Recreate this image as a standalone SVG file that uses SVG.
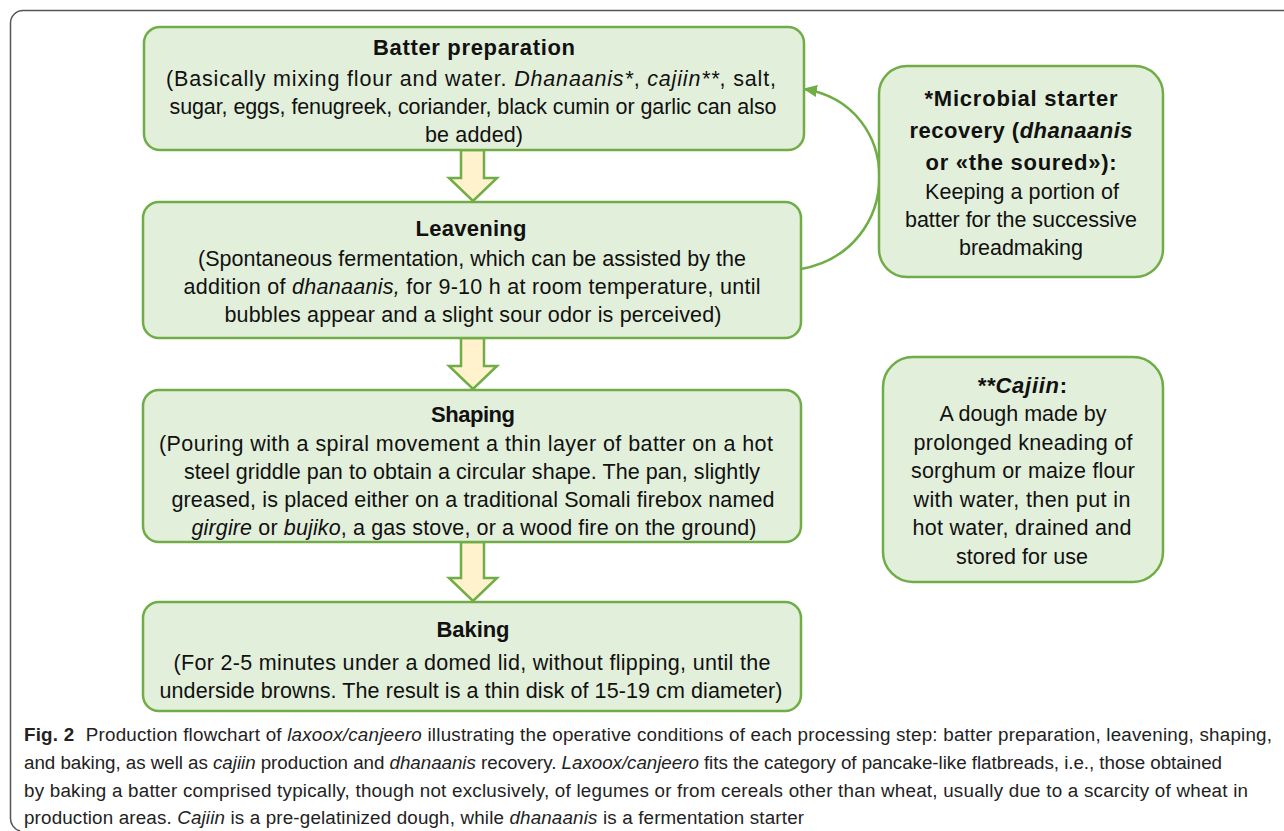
<svg xmlns="http://www.w3.org/2000/svg" width="1284" height="831" viewBox="0 0 1284 831">
<style>
.box{fill:#e2efda;stroke:#70ad47;stroke-width:2.5}
.blk{fill:#fff2cc;stroke:#70ad47;stroke-width:2.5;stroke-linejoin:miter}
.t{font-family:"Liberation Sans",Arial,sans-serif;font-size:21.5px;fill:#111;text-anchor:middle}
.h{font-weight:bold;font-size:22px}
.cap{font-family:"Liberation Sans",Arial,sans-serif;font-size:18.8px;fill:#222}
.i{font-style:italic}
.b{font-weight:bold}
</style>
<defs>
<marker id="ah" markerWidth="14" markerHeight="12" refX="13" refY="6" orient="auto" markerUnits="userSpaceOnUse">
<path d="M0,0 L14,6 L0,12 Z" fill="#70ad47"/>
</marker>
</defs>
<path d="M1284,10.5 H23 A12.5,12.5 0 0 0 10.5,23 V818 A13,13 0 0 0 20,831" fill="none" stroke="#555" stroke-width="1.5"/>
<g id="connectors">
<polygon class="blk" points="461,150 484,150 484,178 497,178 473,201 449,178 461,178"/>
<polygon class="blk" points="461,338 484,338 484,366 497,366 473,389 449,366 461,366"/>
<polygon class="blk" points="461,542 484,542 484,578 497,578 473,601 449,578 461,578"/>
<path d="M801,269 C905,250 905,105 804,89" fill="none" stroke="#70ad47" stroke-width="2.5" marker-end="url(#ah)"/>
</g>
<g id="batter">
<rect class="box" x="144" y="27" width="660" height="123" rx="16"/>
<text class="t h" x="474" y="55" textLength="202" lengthAdjust="spacing">Batter preparation</text>
<text class="t" x="471" y="86" textLength="610" lengthAdjust="spacing">(Basically mixing flour and water. <tspan class="i">Dhanaanis*</tspan>, <tspan class="i">cajiin**</tspan>, salt,</text>
<text class="t" x="473" y="114" textLength="607" lengthAdjust="spacing">sugar, eggs, fenugreek, coriander, black cumin or garlic can also</text>
<text class="t" x="474" y="142" textLength="98" lengthAdjust="spacing">be added)</text>
</g>
<g id="leavening">
<rect class="box" x="143" y="202" width="658" height="136" rx="16"/>
<text class="t h" x="471" y="236" textLength="111" lengthAdjust="spacing">Leavening</text>
<text class="t" x="472" y="266" textLength="548" lengthAdjust="spacing">(Spontaneous fermentation, which can be assisted by the</text>
<text class="t" x="472" y="294" textLength="577" lengthAdjust="spacing">addition of <tspan class="i">dhanaanis,</tspan> for 9-10 h at room temperature, until</text>
<text class="t" x="473" y="322" textLength="497" lengthAdjust="spacing">bubbles appear and a slight sour odor is perceived)</text>
</g>
<g id="shaping">
<rect class="box" x="143" y="390" width="658" height="152" rx="16"/>
<text class="t h" x="473" y="422" textLength="84" lengthAdjust="spacing">Shaping</text>
<text class="t" x="466" y="451" textLength="614" lengthAdjust="spacing">(Pouring with a spiral movement a thin layer of batter on a hot</text>
<text class="t" x="472" y="479" textLength="576" lengthAdjust="spacing">steel griddle pan to obtain a circular shape. The pan, slightly</text>
<text class="t" x="473" y="507" textLength="603" lengthAdjust="spacing">greased, is placed either on a traditional Somali firebox named</text>
<text class="t" x="474" y="535" textLength="565" lengthAdjust="spacing"><tspan class="i">girgire</tspan> or <tspan class="i">bujiko</tspan>, a gas stove, or a wood fire on the ground)</text>
</g>
<g id="baking">
<rect class="box" x="143" y="602" width="658" height="109" rx="16"/>
<text class="t h" x="473" y="637" textLength="73" lengthAdjust="spacing">Baking</text>
<text class="t" x="472" y="670" textLength="597" lengthAdjust="spacing">(For 2-5 minutes under a domed lid, without flipping, until the</text>
<text class="t" x="471" y="698" textLength="623" lengthAdjust="spacing">underside browns. The result is a thin disk of 15-19 cm diameter)</text>
</g>
<g id="microbial">
<rect class="box" x="879" y="66" width="284" height="211" rx="28"/>
<text class="t h" x="1021" y="106" textLength="193" lengthAdjust="spacing">*Microbial starter</text>
<text class="t h" x="1021" y="138" textLength="223" lengthAdjust="spacing">recovery (<tspan class="i">dhanaanis</tspan></text>
<text class="t h" x="1021" y="170" textLength="191" lengthAdjust="spacing">or «the soured»):</text>
<text class="t" x="1022" y="199" textLength="194" lengthAdjust="spacing">Keeping a portion of</text>
<text class="t" x="1021" y="227" textLength="232" lengthAdjust="spacing">batter for the successive</text>
<text class="t" x="1021" y="255" textLength="124" lengthAdjust="spacing">breadmaking</text>
</g>
<g id="cajiin">
<rect class="box" x="883" y="357" width="280" height="225" rx="30"/>
<text class="t h" x="1022" y="393" textLength="90" lengthAdjust="spacing"><tspan class="i">**Cajiin</tspan>:</text>
<text class="t" x="1023" y="421" textLength="167" lengthAdjust="spacing">A dough made by</text>
<text class="t" x="1023" y="450" textLength="219" lengthAdjust="spacing">prolonged kneading of</text>
<text class="t" x="1023" y="478" textLength="224" lengthAdjust="spacing">sorghum or maize flour</text>
<text class="t" x="1022" y="507" textLength="217" lengthAdjust="spacing">with water, then put in</text>
<text class="t" x="1022" y="535" textLength="219" lengthAdjust="spacing">hot water, drained and</text>
<text class="t" x="1022" y="564" textLength="132" lengthAdjust="spacing">stored for use</text>
</g>
<g id="caption">
<text class="cap" x="24" y="741" textLength="1248" lengthAdjust="spacing"><tspan class="b">Fig. 2</tspan><tspan dx="6"> Production flowchart of </tspan><tspan class="i">laxoox/canjeero</tspan> illustrating the operative conditions of each processing step: batter preparation, leavening, shaping,</text>
<text class="cap" x="24" y="769" textLength="1198" lengthAdjust="spacing">and baking, as well as <tspan class="i">cajiin</tspan> production and <tspan class="i">dhanaanis</tspan> recovery. <tspan class="i">Laxoox/canjeero</tspan> fits the category of pancake-like flatbreads, i.e., those obtained</text>
<text class="cap" x="24" y="797" textLength="1224" lengthAdjust="spacing">by baking a batter comprised typically, though not exclusively, of legumes or from cereals other than wheat, usually due to a scarcity of wheat in</text>
<text class="cap" x="24" y="824" textLength="780" lengthAdjust="spacing">production areas. <tspan class="i">Cajiin</tspan> is a pre-gelatinized dough, while <tspan class="i">dhanaanis</tspan> is a fermentation starter</text>
</g>
</svg>
